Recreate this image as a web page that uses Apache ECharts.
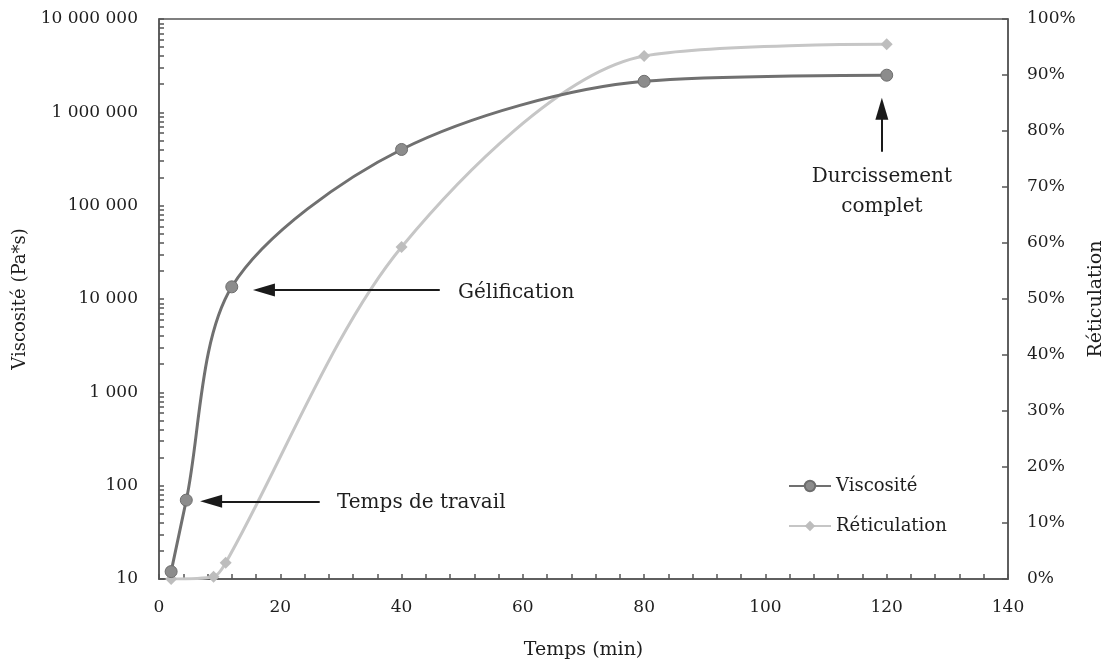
<!DOCTYPE html>
<html><head><meta charset="utf-8">
<script src="https://cdn.jsdelivr.net/npm/echarts@6/dist/echarts.min.js"></script>
<style>html,body{margin:0;padding:0;background:#fff}#c{width:1106px;height:662px}</style>
</head><body><div id="c"></div>
<script>
// ---- data ----
const viscTime = [2, 4.5, 12, 40, 80, 120];
const viscValues = [12, 70, 13500, 400000, 2150000, 2500000];
const retiTime = [2, 9, 11, 40, 80, 120];
const retiValues = [0, 0.4, 2.9, 59.3, 93.4, 95.5];
const xTickLabels = [0, 20, 40, 60, 80, 100, 120, 140];
const viscTickLabels = [10, 100, 1000, 10000, 100000, 1000000, 10000000];
const retiTickLabels = [0, 10, 20, 30, 40, 50, 60, 70, 80, 90, 100];
// annotations (data coordinates)
const arrowGel = [[46.3, 12500], [17.3, 12500]];
const arrowWork = [[26.5, 68], [8.6, 68]];
const arrowCure = [[119.2, 378000], [119.2, 1090000]];
const textGel = [49.3, 11600, 'Gélification'];
const textWork = [29.35, 65, 'Temps de travail'];
const textCure = [119.2, 141000, 'Durcissement\ncomplet'];

const FONT = 'DejaVu Serif';
const TXT = '#1e1e1e';
const AX = '#555';

const logTicks = [];
for (let d = 10; d < 10000000; d *= 10) for (let k = 1; k <= 9; k++) logTicks.push(k * d);
logTicks.push(10000000);

const fmtSpace = v => String(Math.round(v)).replace(/\B(?=(\d{3})+(?!\d))/g, ' ');

function arrowLine(a) {
  return [
    { coord: a[0], symbol: 'none' },
    { coord: a[1], symbol: 'triangle', symbolSize: [13, 22] }
  ];
}
function textPoint(t, align) {
  return {
    coord: [t[0], t[1]],
    symbol: 'circle', symbolSize: 0,
    label: { show: true, position: 'inside', align: align, verticalAlign: 'middle',
      formatter: t[2], color: TXT, fontFamily: FONT, fontSize: 20, lineHeight: 30 }
  };
}

const chart = echarts.init(document.getElementById('c'), null, { renderer: 'canvas' });
chart.setOption({
  animation: false,
  backgroundColor: '#fff',
  grid: { left: 159, right: 98, top: 19, bottom: 83, containLabel: false, outerBoundsMode: 'none',
    show: true, borderColor: AX, borderWidth: 1.5, backgroundColor: 'transparent' },
  legend: {
    orient: 'vertical', left: 788, top: 477, padding: 0, itemGap: 22, itemWidth: 42, itemHeight: 13,
    textStyle: { color: TXT, fontFamily: FONT, fontSize: 18 },
    data: ['Viscosité', 'Réticulation']
  },
  xAxis: {
    type: 'value', min: 0, max: 140, interval: 4,
    name: 'Temps (min)', nameLocation: 'middle', nameGap: 62,
    nameTextStyle: { color: TXT, fontFamily: FONT, fontSize: 19 },
    axisLine: { lineStyle: { color: AX, width: 1.5 } },
    axisTick: { inside: true, length: 5, lineStyle: { color: AX, width: 1.5 } },
    axisLabel: { color: TXT, fontFamily: FONT, fontSize: 17, margin: 20,
      formatter: v => (xTickLabels.indexOf(v) >= 0 ? String(v) : '') },
    splitLine: { show: false }
  },
  yAxis: [
    {
      type: 'log', logBase: 10, min: 10, max: 10000000, position: 'left',
      name: 'Viscosité (Pa*s)', nameLocation: 'middle', nameGap: 129, nameRotate: 90,
      nameTextStyle: { color: TXT, fontFamily: FONT, fontSize: 18 },
      axisLine: { show: true, lineStyle: { color: AX, width: 1.5 } },
      axisTick: { show: true, inside: true, length: 5, customValues: logTicks, lineStyle: { color: AX, width: 1.5 } },
      axisLabel: { color: TXT, fontFamily: FONT, fontSize: 17, margin: 21,
        customValues: viscTickLabels, formatter: fmtSpace },
      splitLine: { show: false }
    },
    {
      type: 'value', min: 0, max: 100, interval: 10, position: 'right',
      name: 'Réticulation', nameLocation: 'middle', nameGap: 70, nameRotate: 90,
      nameTextStyle: { color: TXT, fontFamily: FONT, fontSize: 19 },
      axisLine: { show: true, lineStyle: { color: AX, width: 1.5 } },
      axisTick: { show: true, inside: true, length: 6, lineStyle: { color: AX, width: 1.5 } },
      axisLabel: { color: TXT, fontFamily: FONT, fontSize: 17, margin: 19,
        formatter: v => (retiTickLabels.indexOf(v) >= 0 ? v + '%' : '') },
      splitLine: { show: false }
    }
  ],
  series: [
    {
      name: 'Viscosité', type: 'line', yAxisIndex: 0, smooth: 0.3,
      data: viscTime.map((t, i) => [t, viscValues[i]]),
      symbol: 'circle', symbolSize: 12, showSymbol: true,
      lineStyle: { color: '#707070', width: 3 },
      itemStyle: { color: '#8c8c8c', borderColor: '#6e6e6e', borderWidth: 1 },
      z: 3,
      markLine: {
        silent: true, animation: false,
        lineStyle: { color: '#1a1a1a', width: 2, type: 'solid' },
        label: { show: false },
        itemStyle: { color: '#111' },
        data: [arrowLine(arrowGel), arrowLine(arrowWork), arrowLine(arrowCure)]
      },
      markPoint: {
        silent: true, animation: false,
        data: [textPoint(textGel, 'left'), textPoint(textWork, 'left'), textPoint(textCure, 'center')]
      }
    },
    {
      name: 'Réticulation', type: 'line', yAxisIndex: 1, smooth: 0.3,
      data: retiTime.map((t, i) => [t, retiValues[i]]),
      symbol: 'diamond', symbolSize: 12, showSymbol: true,
      lineStyle: { color: '#c6c6c6', width: 3 },
      itemStyle: { color: '#bdbdbd' },
      z: 2
    }
  ]
});
</script>
</body></html>
